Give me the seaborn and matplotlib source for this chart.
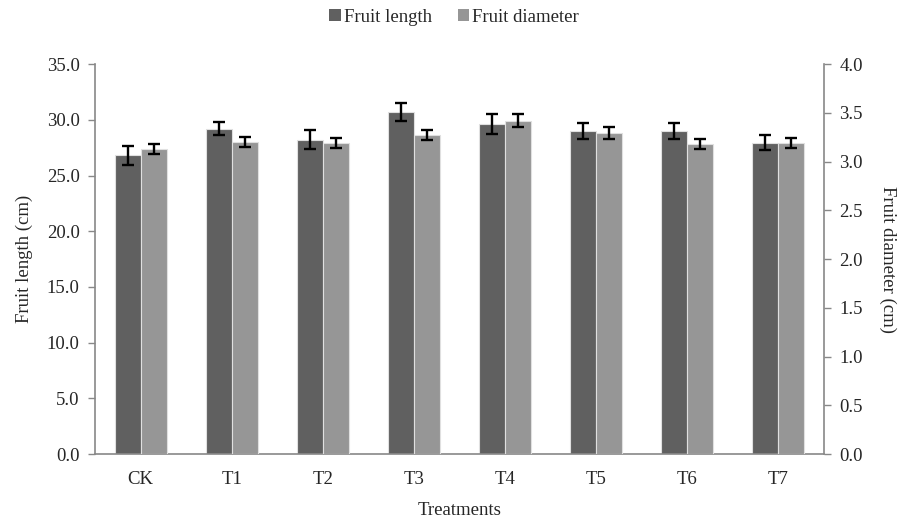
import numpy as np
import pandas as pd
import matplotlib
matplotlib.use("Agg")
import matplotlib.pyplot as plt
from matplotlib.patches import Patch
import seaborn as sns

treatments = ["CK", "T1", "T2", "T3", "T4", "T5", "T6", "T7"]
fruit_length = [26.8, 29.2, 28.2, 30.7, 29.6, 29.0, 29.0, 27.95]
length_err = [0.85, 0.6, 0.85, 0.85, 0.9, 0.75, 0.75, 0.7]
fruit_diameter = [3.13, 3.20, 3.19, 3.27, 3.42, 3.295, 3.18, 3.19]
diameter_err = [0.055, 0.05, 0.05, 0.05, 0.07, 0.06, 0.05, 0.05]
series = ["Fruit length", "Fruit diameter"]
colors = ["#606060", "#969696"]


def main():
    sns.set_style("white")
    plt.rcParams["font.family"] = ["Liberation Serif", "DejaVu Serif"]
    plt.rcParams["font.size"] = 13.5

    n = len(treatments)
    df = pd.DataFrame({
        "Treatment": treatments * 2,
        "Series": [series[0]] * n + [series[1]] * n,
        "length": fruit_length + [np.nan] * n,
        "diameter": [np.nan] * n + fruit_diameter,
    })

    fig, ax1 = plt.subplots(figsize=(9.08, 5.25), dpi=100)
    fig.subplots_adjust(left=0.1046, right=0.9075, bottom=0.135, top=0.878)
    ax2 = ax1.twinx()

    width = 0.57
    sns.barplot(data=df, x="Treatment", y="length", hue="Series", hue_order=series,
                palette=colors, width=width, errorbar=None, ax=ax1,
                edgecolor="#e0e0e0", linewidth=0.8, legend=False, saturation=1)
    sns.barplot(data=df, x="Treatment", y="diameter", hue="Series", hue_order=series,
                palette=colors, width=width, errorbar=None, ax=ax2,
                edgecolor="#e0e0e0", linewidth=0.8, legend=False, saturation=1)

    idx = np.arange(n)
    off = width / 4
    ax1.errorbar(idx - off, fruit_length, yerr=length_err, fmt="none", ecolor="black",
                 elinewidth=1.7, capsize=4.5, capthick=1.7)
    ax2.errorbar(idx + off, fruit_diameter, yerr=diameter_err, fmt="none", ecolor="black",
                 elinewidth=1.7, capsize=4.5, capthick=1.7)

    ax1.set_ylim(0, 35)
    ax2.set_ylim(0, 4)
    ax1.set_yticks(np.arange(0, 35.1, 5))
    ax1.set_yticklabels([f"{v:.1f}" for v in np.arange(0, 35.1, 5)])
    ax2.set_yticks(np.arange(0, 4.01, 0.5))
    ax2.set_yticklabels([f"{v:.1f}" for v in np.arange(0, 4.01, 0.5)])
    ax1.set_xlim(-0.5, n - 0.5)

    ax1.set_xticks(idx)
    ax1.set_xticklabels(treatments)
    ax1.set_xticks(np.arange(-0.5, n, 1), minor=True)
    ax1.tick_params(axis="x", which="major", length=0, pad=12)
    ax1.tick_params(axis="x", which="minor", length=5, color="#888888", width=1)
    ax1.tick_params(axis="y", length=5, color="#888888", width=1, left=True, pad=6)
    ax2.tick_params(axis="y", length=5, color="#888888", width=1, right=True, pad=6)

    for ax in (ax1, ax2):
        ax.spines["top"].set_visible(False)
        for s in ("left", "right", "bottom"):
            ax.spines[s].set_color("#888888")
            ax.spines[s].set_linewidth(1.2)
    ax2.spines["left"].set_visible(False)
    ax2.spines["bottom"].set_visible(False)
    ax1.spines["right"].set_visible(False)

    ax1.set_xlabel("Treatments", labelpad=10)
    ax1.set_ylabel("Fruit length (cm)", labelpad=10)
    ax2.set_ylabel("Fruit diameter (cm)", rotation=270, labelpad=24)

    handles = [Patch(facecolor=c, edgecolor="none") for c in colors]
    fig.legend(handles, series, loc="upper center", bbox_to_anchor=(0.5, 1.015), ncol=2,
               frameon=False, handlelength=0.6, handleheight=0.6, handletextpad=0.15,
               columnspacing=1.4, fontsize=13.5)

    fig.savefig("out.png", dpi=100)


if __name__ == "__main__":
    main()
